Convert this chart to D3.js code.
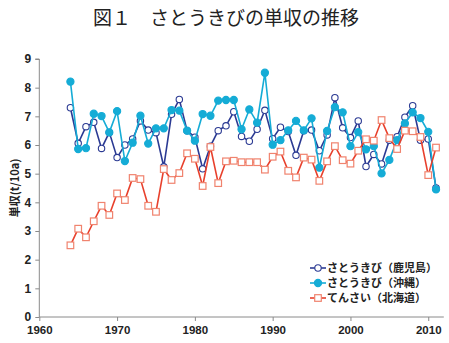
<!DOCTYPE html>
<html lang="ja">
<head>
    <meta charset="UTF-8">
    <title>図１ さとうきびの単収の推移</title>
    <script src="https://d3js.org/d3.v7.min.js"></script>
    <style>
        body {
            margin: 0;
            padding: 0;
            background: #fff;
            font-family: "Noto Sans CJK JP", "Liberation Sans", sans-serif;
        }
        svg { display: block; }
        .tick text {
            font-family: "Liberation Sans", Arial, sans-serif;
            font-weight: bold;
            font-size: 12px;
            fill: #222;
        }
        .axis path, .axis line { stroke: #8a8a8a; }
    </style>
</head>
<body>
    <svg id="chart"></svg>

    <script>
        // Data (yield, t/10a)
        const years = d3.range(1964, 2012);

        const kagoshima = [7.30, 6.06, 6.64, 6.79, 5.88, 6.44, 5.56, 6.00, 6.21, 6.84,
                           6.52, 6.43, 5.24, 7.07, 7.59, 6.50, 6.27, 5.17, 5.96, 6.50,
                           6.67, 7.16, 6.30, 6.13, 6.55, 7.21, 6.22, 6.62, 6.47, 5.64,
                           6.50, 6.52, 5.80, 6.35, 7.65, 6.60, 6.26, 6.84, 5.25, 5.67,
                           5.34, 6.17, 6.29, 6.97, 7.37, 6.17, 6.21, 4.50];

        const okinawa = [8.21, 5.86, 5.89, 7.09, 7.01, 6.44, 7.18, 5.44, 6.08, 7.02,
                         6.05, 6.58, 6.58, 7.22, 7.20, 6.50, 6.15, 7.08, 7.02, 7.55,
                         7.57, 7.57, 6.55, 7.24, 6.78, 8.52, 6.01, 6.17, 6.51, 6.84,
                         6.51, 6.93, 5.21, 6.49, 7.32, 7.14, 5.96, 6.45, 5.85, 5.96,
                         5.01, 5.48, 6.17, 6.75, 7.14, 6.94, 6.46, 4.45];

        const hokkaido = [2.50, 3.08, 2.78, 3.34, 3.88, 3.56, 4.31, 4.08, 4.85, 4.81,
                          3.88, 3.67, 5.16, 4.78, 5.02, 5.71, 5.52, 4.57, 5.93, 4.67,
                          5.43, 5.45, 5.40, 5.40, 5.40, 5.14, 5.59, 5.77, 5.10, 4.87,
                          5.56, 5.49, 4.75, 5.43, 5.96, 5.47, 5.35, 5.80, 6.20, 6.15,
                          6.87, 6.24, 5.86, 6.50, 6.48, 6.28, 4.95, 5.91];

        const seriesNames = ["さとうきび（鹿児島）", "さとうきび（沖縄）", "てんさい（北海道）"];
        const yTicks = d3.range(0, 10);
        const xTicks = [1960, 1970, 1980, 1990, 2000, 2010];

        const width = 449, height = 343;
        const svg = d3.select("#chart").attr("width", width).attr("height", height);

        const x = d3.scaleLinear().domain([1960, 2012]).range([39.3, 443.8]);
        const y = d3.scaleLinear().domain([0, 9]).range([317, 59]);

        // title
        svg.append("text")
            .attr("x", 226).attr("y", 25)
            .attr("text-anchor", "middle")
            .style("font-size", "19px")
            .style("fill", "#222")
            .text("図１　さとうきびの単収の推移");

        // axes
        const yAxis = svg.append("g").attr("class", "axis")
            .attr("transform", `translate(${x(1960)},0)`)
            .call(d3.axisLeft(y).tickValues(yTicks).tickSize(4).tickPadding(4).tickFormat(d3.format("d")));
        yAxis.select(".domain").attr("d", `M-4,${y(9)}H0V${y(0)}`);

        const xAxis = svg.append("g").attr("class", "axis")
            .attr("transform", `translate(0,${y(0)})`)
            .call(d3.axisBottom(x).tickValues(xTicks).tickSize(4).tickPadding(5).tickFormat(d3.format("d")));
        xAxis.select(".domain").attr("d", `M${x(1960)},0H${x(2012)}`);
        xAxis.selectAll(".tick text").style("font-size", "11.5px");

        // y label
        svg.append("text")
            .attr("transform", `translate(19,${(y(0) + y(9)) / 2}) rotate(-90)`)
            .attr("text-anchor", "middle")
            .style("font-size", "11px")
            .style("font-weight", "bold")
            .style("fill", "#222")
            .text("単収(t/10a)");

        const line = d3.line().x((d, i) => x(years[i])).y(d => y(d));

        const styles = [
            { data: kagoshima, color: "#2b3a93", marker: "circle", fill: "#fff", mstroke: "#2b3a93" },
            { data: okinawa, color: "#15acd6", marker: "dot", fill: "#15acd6", mstroke: "#15acd6" },
            { data: hokkaido, color: "#e8402c", marker: "square", fill: "#fff", mstroke: "#f0836e" }
        ];

        function drawMarker(g, s, cx, cy) {
            if (s.marker === "square") {
                g.append("rect").attr("x", cx - 3.3).attr("y", cy - 3.3)
                    .attr("width", 6.6).attr("height", 6.6)
                    .attr("fill", s.fill).attr("stroke", s.mstroke).attr("stroke-width", 1.2);
            } else {
                g.append("circle").attr("cx", cx).attr("cy", cy)
                    .attr("r", s.marker === "dot" ? 3.6 : 3.2)
                    .attr("fill", s.fill).attr("stroke", s.mstroke).attr("stroke-width", 1.1);
            }
        }

        styles.forEach(s => {
            const g = svg.append("g");
            g.append("path").datum(s.data)
                .attr("d", line)
                .attr("fill", "none")
                .attr("stroke", s.color)
                .attr("stroke-width", 1.6);
            s.data.forEach((v, i) => drawMarker(g, s, x(years[i]), y(v)));
        });

        // legend
        const legend = svg.append("g");
        styles.forEach((s, i) => {
            const ly = 268 + i * 15;
            legend.append("line")
                .attr("x1", 310).attr("x2", 326).attr("y1", ly).attr("y2", ly)
                .attr("stroke", s.color).attr("stroke-width", 1.6);
            drawMarker(legend, s, 318, ly);
            legend.append("text")
                .attr("x", 327).attr("y", ly + 4)
                .style("font-size", "11px")
                .style("font-weight", "bold")
                .style("fill", "#222")
                .text(seriesNames[i]);
        });
    </script>
</body>
</html>
